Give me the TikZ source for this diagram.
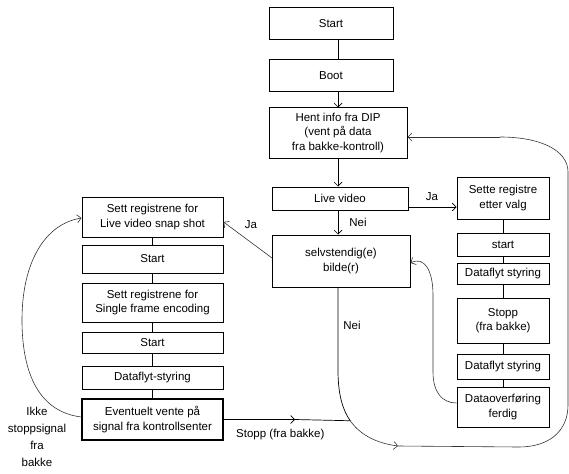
\documentclass[tikz,border=0pt]{standalone}
\usepackage{fontspec}
\setmainfont{Liberation Sans}
\usetikzlibrary{arrows.meta}
\begin{document}
\begin{tikzpicture}[x=1pt,y=-1pt,
  txt/.style={font=\fontsize{11.5}{14.5}\selectfont},
  box/.style={txt, draw, line width=1pt, align=center, inner sep=0pt},
  lbl/.style={txt, align=center, inner sep=0pt},
  conn/.style={line width=0.7pt},
  arr/.style={conn, -{Straight Barb[length=4pt,width=8pt]}},
  loopline/.style={line width=0.6pt, draw=black!80},
  looparr/.style={loopline, -{Straight Barb[length=4pt,width=8pt]}}]
\useasboundingbox (0,0) rectangle (569,473);

% main column
\node[box, minimum width=124pt, minimum height=32pt] (start) at (331,24) {Start};
\node[box, minimum width=124pt, minimum height=32pt] (boot) at (331,76) {Boot};
\node[box, minimum width=138pt, minimum height=50pt] (hent) at (338,133)
  {Hent info fra DIP\\(vent på data\\fra bakke-kontroll)};
\node[box, minimum width=136pt, minimum height=23pt] (live) at (340,198.5) {Live video};
\node[box, minimum width=138pt, minimum height=52pt] (selv) at (341,261)
  {selvstendig(e)\\bilde(r)};

% right column
\node[box, minimum width=92pt, minimum height=42pt] (sette) at (503,198) {Sette registre\\etter valg};
\node[box, minimum width=92pt, minimum height=23pt] (rstart) at (503,244.5) {start};
\node[box, minimum width=92pt, minimum height=21pt] (rflyt) at (503,273.5) {Dataflyt styring};
\node[box, minimum width=92pt, minimum height=45pt] (stopp) at (503,320.5) {Stopp\\(fra bakke)};
\node[box, minimum width=92pt, minimum height=25pt] (rflyt2) at (503,366.5) {Dataflyt styring};
\node[box, minimum width=92pt, minimum height=40pt] (ferdig) at (503,407) {Dataoverføring\\ferdig};

% left column
\node[box, minimum width=141pt, minimum height=40pt] (snap) at (152.5,217)
  {Sett registrene for\\Live video snap shot};
\node[box, minimum width=141pt, minimum height=28pt] (lstart) at (152.5,259) {Start};
\node[box, minimum width=141pt, minimum height=39pt] (single) at (152.5,302.5)
  {Sett registrene for\\Single frame encoding};
\node[box, minimum width=141pt, minimum height=21pt] (lstart2) at (152.5,342.5) {Start};
\node[box, minimum width=141pt, minimum height=23pt] (lflyt) at (152.5,377.5) {Dataflyt-styring};
\node[box, minimum width=141pt, minimum height=41pt, line width=1.3pt] (vente) at (152.5,419.5)
  {Eventuelt vente på\\signal fra kontrollsenter};

% labels
\node[lbl] (ja1) at (432,197) {Ja};
\node[lbl] (nei1) at (358,222) {Nei};
\node[lbl] (ja2) at (251,225) {Ja};
\node[lbl] (nei2) at (352,325) {Nei};
\node[lbl, font=\fontsize{11.5}{17}\selectfont] (ikke) at (37,437) {Ikke\\stoppsignal\\fra\\bakke};
\node[lbl, anchor=west] (stopplbl) at (236,435) {Stopp (fra bakke)};

% main column connectors
\draw[conn] (start.south -| hent.north) -- (boot.north -| hent.north);
\draw[arr] (boot.south -| hent.north) -- (hent.north);
\draw[arr] (hent.south) -- (live.north -| hent.south);
\draw[arr] (live.south -| hent.south) -- (selv.north -| hent.south);

% right column connectors
\draw[conn] (sette) -- (rstart) -- (rflyt) -- (stopp) -- (rflyt2) -- (ferdig);

% left column connectors
\draw[conn] (snap) -- (lstart) -- (single) -- (lstart2) -- (lflyt) -- (vente);

% "Ja" branches
\coordinate (liveout) at (408,207);
\draw[arr] (liveout) -- (sette.west |- liveout);
\coordinate (selvout) at (272,258);
\draw[looparr] (selvout) -- (snap.east |- 0,222);

% "Nei" branch running round to the top
\coordinate (nbend) at (338,370);
\coordinate (jn) at (350.25,420.75);
\coordinate (narr) at (398,446);
\coordinate (sw) at (519,447);
\coordinate (se) at (568,405);
\coordinate (ne) at (568,172);
\coordinate (nw) at (500,137);
\draw[conn] (selv.south -| hent.south) -- (nbend)
  .. controls (338,390) and (341,407.5) .. (jn);
\draw[looparr] (jn) .. controls (359.5,434) and (375,443) .. (narr);
\draw[loopline] (narr) -- (sw) .. controls (548,447) and (568,432) .. (se) -- (ne)
  .. controls (568,150) and (540,137) .. (nw);
\draw[looparr] (nw) -- (hent.east |- nw);

% stop signal from ground
\coordinate (smid) at (295,419.5);
\draw[arr] (vente.east) -- (smid);
\draw[conn] (smid) -- (jn);

% transfer finished back to image
\coordinate (fa) at (433,372);
\coordinate (fb) at (433,295);
\draw[looparr] (ferdig.west |- 0,403) .. controls (442,403) and (433,392) .. (fa) -- (fb)
  .. controls (433,270) and (424,256) .. (selv.east |- 0,263);

% no stop signal: wait again
\draw[looparr] (vente.west |- 0,417) .. controls (40,412) and (22,375) .. (22,320)
  .. controls (22,262) and (45,224) .. (snap.west |- 0,218);
\end{tikzpicture}
\end{document}
